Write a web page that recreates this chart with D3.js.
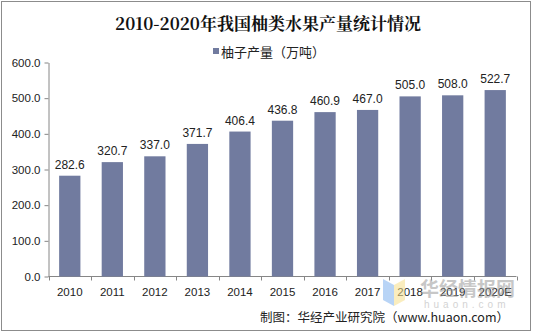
<!DOCTYPE html>
<html>
<head>
<meta charset="utf-8">
<script src="https://cdn.jsdelivr.net/npm/d3@7"></script>
<style>
  html, body { margin: 0; padding: 0; background: #fff; }
  svg { display: block; }
</style>
</head>
<body>
<div id="chart"></div>
<script>
var years = ["2010", "2011", "2012", "2013", "2014", "2015", "2016", "2017", "2018", "2019", "2020E"];
var output = [282.6, 320.7, 337.0, 371.7, 406.4, 436.8, 460.9, 467.0, 505.0, 508.0, 522.7];
var yTicks = [0, 100, 200, 300, 400, 500, 600];

var width = 533, height = 335;
var barColor = "#717b9f";
var font = "Arial, 'Liberation Sans', 'Noto Sans CJK SC', sans-serif";

var svg = d3.select("#chart").append("svg")
    .attr("width", width)
    .attr("height", height);

// outer frame
svg.append("rect")
    .attr("x", 1.5).attr("y", 1.5)
    .attr("width", 529).attr("height", 329)
    .attr("fill", "#fff")
    .attr("stroke", "#8c8c8c");

svg.append("text")
    .attr("x", 268).attr("y", 30)
    .attr("text-anchor", "middle")
    .style("font-family", "'Noto Serif CJK SC', 'DejaVu Serif', 'Noto Sans CJK SC', serif")
    .style("font-size", "17px")
    .style("font-weight", "bold")
    .attr("fill", "#111")
    .text("2010-2020年我国柚类水果产量统计情况");

// legend
svg.append("rect")
    .attr("x", 213).attr("y", 48)
    .attr("width", 6).attr("height", 6)
    .attr("fill", barColor);
svg.append("text")
    .attr("x", 221).attr("y", 57)
    .style("font-family", "'Noto Sans CJK SC', sans-serif")
    .style("font-size", "13px")
    .attr("fill", "#222")
    .text("柚子产量（万吨）");

var x = d3.scaleBand()
    .domain(years)
    .range([48.5, 516.5])
    .paddingInner(0.5)
    .paddingOuter(0.25);

var y = d3.scaleLinear()
    .domain([0, 600])
    .range([276.5, 62.5]);

var yAxis = svg.append("g")
    .attr("transform", "translate(48.5,0)")
    .call(d3.axisLeft(y).tickValues(yTicks).tickSize(4).tickSizeOuter(0)
        .tickFormat(d3.format(".1f")));
yAxis.selectAll("path, line").attr("stroke", "#868686");
yAxis.selectAll("text")
    .attr("fill", "#222")
    .style("font-family", font)
    .style("font-size", "11.5px")
    .attr("x", -8);

var xAxis = svg.append("g")
    .attr("transform", "translate(0,276.5)");
xAxis.append("line")
    .attr("x1", 48.5).attr("x2", 516.5)
    .attr("stroke", "#868686");
var step = x.step();
xAxis.selectAll("line.tick")
    .data(d3.range(years.length + 1))
    .enter().append("line")
    .attr("class", "tick")
    .attr("x1", function(i) { return Math.round(48.5 + i * (516.5 - 48.5) / years.length) + 0.5; })
    .attr("x2", function(i) { return Math.round(48.5 + i * (516.5 - 48.5) / years.length) + 0.5; })
    .attr("y1", 0).attr("y2", 4)
    .attr("stroke", "#868686");

svg.selectAll("rect.bar")
    .data(output)
    .enter().append("rect")
    .attr("class", "bar")
    .attr("x", function(d, i) { return x(years[i]); })
    .attr("y", function(d) { return y(d); })
    .attr("width", x.bandwidth())
    .attr("height", function(d) { return y(0) - y(d); })
    .attr("fill", barColor);

svg.selectAll("text.val")
    .data(output)
    .enter().append("text")
    .attr("class", "val")
    .attr("x", function(d, i) { return x(years[i]) + x.bandwidth() / 2; })
    .attr("y", function(d) { return y(d) - 7; })
    .attr("text-anchor", "middle")
    .style("font-family", font)
    .style("font-size", "12px")
    .attr("fill", "#222")
    .text(function(d) { return d.toFixed(1); });

svg.selectAll("text.year")
    .data(years)
    .enter().append("text")
    .attr("class", "year")
    .attr("x", function(d) { return x(d) + x.bandwidth() / 2; })
    .attr("y", 296)
    .attr("text-anchor", "middle")
    .style("font-family", font)
    .style("font-size", "11.5px")
    .attr("fill", "#222")
    .text(function(d) { return d; });

// watermark
var wm = svg.append("g").attr("opacity", 0.55);
wm.append("path")
    .attr("d", "M383,279 L394,285 L394,306 L383,300 Z")
    .attr("fill", "#7fb2f0");
wm.append("path")
    .attr("d", "M394,285 L405,279 L405,300 L394,306 Z")
    .attr("fill", "#f7e08a");
wm.append("text")
    .attr("x", 420).attr("y", 296)
    .style("font-family", "'Noto Sans CJK SC', sans-serif")
    .style("font-size", "19px")
    .style("font-weight", "bold")
    .attr("fill", "#9a9a9a")
    .text("华经情报网");
wm.append("text")
    .attr("x", 424).attr("y", 308)
    .style("font-family", font)
    .style("font-size", "10px")
    .style("letter-spacing", "4px")
    .attr("fill", "#b0b0b0")
    .text("huaon.com");

svg.append("text")
    .attr("x", 509).attr("y", 322)
    .attr("text-anchor", "end")
    .style("font-family", "'Noto Sans CJK SC', sans-serif")
    .style("font-size", "12.5px")
    .attr("fill", "#222")
    .text("制图：华经产业研究院（www.huaon.com）");
</script>
</body>
</html>
